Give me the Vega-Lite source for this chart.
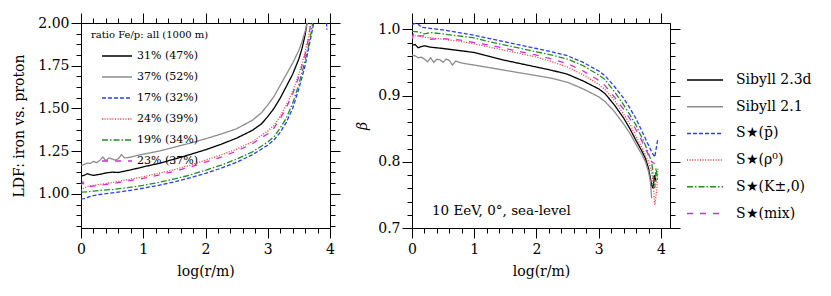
{
"$schema": "https://vega.github.io/schema/vega-lite/v6.json",
"padding": {"left": 12, "top": 12, "right": 0, "bottom": 0},
"config": {
 "font": "DejaVu Serif",
 "view": {"stroke": "black", "strokeWidth": 1},
 "axis": {"grid": false, "domainColor": "black", "tickColor": "black", "labelColor": "black", "titleColor": "black", "labelFontSize": 14, "titleFontSize": 14, "titleFontWeight": "normal", "tickWidth": 1, "domainWidth": 1, "labelOverlap": false, "labelFlush": false, "labelPadding": 2},
 "legend": {"labelColor": "black", "titleColor": "black"}
},
"datasets": {
 "ratios": [
  {"model":"Sibyll 2.3d","ratio":"31% (47%)"},{"model":"Sibyll 2.1","ratio":"37% (52%)"},{"model":"S★(p̄)","ratio":"17% (32%)"},{"model":"S★(ρ⁰)","ratio":"24% (39%)"},{"model":"S★(K±,0)","ratio":"19% (34%)"},{"model":"S★(mix)","ratio":"23% (37%)"}
 ],
 "note": [{"x": 0.32, "y": 0.719, "text": "10 EeV, 0°, sea-level"}],
 "ldf": [
  {"model":"Sibyll 2.3d","x":0,"y":1.104},{"model":"Sibyll 2.3d","x":0.05,"y":1.108},{"model":"Sibyll 2.3d","x":0.1,"y":1.118},{"model":"Sibyll 2.3d","x":0.15,"y":1.112},{"model":"Sibyll 2.3d","x":0.2,"y":1.108},{"model":"Sibyll 2.3d","x":0.3,"y":1.114},{"model":"Sibyll 2.3d","x":0.4,"y":1.122},{"model":"Sibyll 2.3d","x":0.5,"y":1.127},{"model":"Sibyll 2.3d","x":0.6,"y":1.125},{"model":"Sibyll 2.3d","x":0.7,"y":1.133},{"model":"Sibyll 2.3d","x":0.8,"y":1.14},{"model":"Sibyll 2.3d","x":1,"y":1.158},{"model":"Sibyll 2.3d","x":1.25,"y":1.178},{"model":"Sibyll 2.3d","x":1.5,"y":1.203},{"model":"Sibyll 2.3d","x":1.75,"y":1.23},{"model":"Sibyll 2.3d","x":2,"y":1.258},{"model":"Sibyll 2.3d","x":2.25,"y":1.29},{"model":"Sibyll 2.3d","x":2.5,"y":1.326},{"model":"Sibyll 2.3d","x":2.75,"y":1.371},{"model":"Sibyll 2.3d","x":2.9,"y":1.41},{"model":"Sibyll 2.3d","x":3,"y":1.452},{"model":"Sibyll 2.3d","x":3.1,"y":1.5},{"model":"Sibyll 2.3d","x":3.2,"y":1.56},{"model":"Sibyll 2.3d","x":3.3,"y":1.63},{"model":"Sibyll 2.3d","x":3.4,"y":1.7},{"model":"Sibyll 2.3d","x":3.5,"y":1.79},{"model":"Sibyll 2.3d","x":3.55,"y":1.85},{"model":"Sibyll 2.3d","x":3.6,"y":1.93},{"model":"Sibyll 2.3d","x":3.64,"y":2.02},
  {"model":"Sibyll 2.1","x":0,"y":1.166},{"model":"Sibyll 2.1","x":0.05,"y":1.172},{"model":"Sibyll 2.1","x":0.1,"y":1.18},{"model":"Sibyll 2.1","x":0.15,"y":1.178},{"model":"Sibyll 2.1","x":0.2,"y":1.19},{"model":"Sibyll 2.1","x":0.25,"y":1.182},{"model":"Sibyll 2.1","x":0.3,"y":1.195},{"model":"Sibyll 2.1","x":0.35,"y":1.215},{"model":"Sibyll 2.1","x":0.4,"y":1.195},{"model":"Sibyll 2.1","x":0.45,"y":1.21},{"model":"Sibyll 2.1","x":0.5,"y":1.204},{"model":"Sibyll 2.1","x":0.55,"y":1.198},{"model":"Sibyll 2.1","x":0.6,"y":1.205},{"model":"Sibyll 2.1","x":0.65,"y":1.23},{"model":"Sibyll 2.1","x":0.7,"y":1.21},{"model":"Sibyll 2.1","x":0.8,"y":1.215},{"model":"Sibyll 2.1","x":0.9,"y":1.225},{"model":"Sibyll 2.1","x":1,"y":1.232},{"model":"Sibyll 2.1","x":1.25,"y":1.25},{"model":"Sibyll 2.1","x":1.5,"y":1.273},{"model":"Sibyll 2.1","x":1.75,"y":1.296},{"model":"Sibyll 2.1","x":2,"y":1.322},{"model":"Sibyll 2.1","x":2.25,"y":1.35},{"model":"Sibyll 2.1","x":2.5,"y":1.381},{"model":"Sibyll 2.1","x":2.75,"y":1.43},{"model":"Sibyll 2.1","x":2.9,"y":1.475},{"model":"Sibyll 2.1","x":3,"y":1.52},{"model":"Sibyll 2.1","x":3.1,"y":1.57},{"model":"Sibyll 2.1","x":3.2,"y":1.635},{"model":"Sibyll 2.1","x":3.3,"y":1.7},{"model":"Sibyll 2.1","x":3.4,"y":1.765},{"model":"Sibyll 2.1","x":3.5,"y":1.84},{"model":"Sibyll 2.1","x":3.55,"y":1.89},{"model":"Sibyll 2.1","x":3.6,"y":1.95},{"model":"Sibyll 2.1","x":3.65,"y":2.02},
  {"model":"S★(p̄)","x":0,"y":0.97},{"model":"S★(p̄)","x":0.05,"y":0.972},{"model":"S★(p̄)","x":0.1,"y":0.978},{"model":"S★(p̄)","x":0.15,"y":0.985},{"model":"S★(p̄)","x":0.2,"y":0.99},{"model":"S★(p̄)","x":0.3,"y":0.996},{"model":"S★(p̄)","x":0.5,"y":1.005},{"model":"S★(p̄)","x":0.75,"y":1.018},{"model":"S★(p̄)","x":1,"y":1.033},{"model":"S★(p̄)","x":1.25,"y":1.05},{"model":"S★(p̄)","x":1.5,"y":1.07},{"model":"S★(p̄)","x":1.75,"y":1.093},{"model":"S★(p̄)","x":2,"y":1.12},{"model":"S★(p̄)","x":2.25,"y":1.15},{"model":"S★(p̄)","x":2.5,"y":1.185},{"model":"S★(p̄)","x":2.75,"y":1.228},{"model":"S★(p̄)","x":3,"y":1.285},{"model":"S★(p̄)","x":3.1,"y":1.315},{"model":"S★(p̄)","x":3.2,"y":1.36},{"model":"S★(p̄)","x":3.3,"y":1.42},{"model":"S★(p̄)","x":3.4,"y":1.5},{"model":"S★(p̄)","x":3.5,"y":1.615},{"model":"S★(p̄)","x":3.6,"y":1.75},{"model":"S★(p̄)","x":3.65,"y":1.84},{"model":"S★(p̄)","x":3.7,"y":1.93},{"model":"S★(p̄)","x":3.75,"y":2.02},{"model":"S★(p̄)","x":3.85,"y":2.6},{"model":"S★(p̄)","x":3.95,"y":1.96},
  {"model":"S★(ρ⁰)","x":0,"y":1.02},{"model":"S★(ρ⁰)","x":0.05,"y":1.035},{"model":"S★(ρ⁰)","x":0.1,"y":1.043},{"model":"S★(ρ⁰)","x":0.2,"y":1.05},{"model":"S★(ρ⁰)","x":0.3,"y":1.055},{"model":"S★(ρ⁰)","x":0.5,"y":1.066},{"model":"S★(ρ⁰)","x":0.75,"y":1.083},{"model":"S★(ρ⁰)","x":1,"y":1.1},{"model":"S★(ρ⁰)","x":1.25,"y":1.12},{"model":"S★(ρ⁰)","x":1.5,"y":1.142},{"model":"S★(ρ⁰)","x":1.75,"y":1.168},{"model":"S★(ρ⁰)","x":2,"y":1.197},{"model":"S★(ρ⁰)","x":2.25,"y":1.228},{"model":"S★(ρ⁰)","x":2.5,"y":1.262},{"model":"S★(ρ⁰)","x":2.75,"y":1.305},{"model":"S★(ρ⁰)","x":3,"y":1.368},{"model":"S★(ρ⁰)","x":3.1,"y":1.4},{"model":"S★(ρ⁰)","x":3.2,"y":1.455},{"model":"S★(ρ⁰)","x":3.3,"y":1.52},{"model":"S★(ρ⁰)","x":3.4,"y":1.6},{"model":"S★(ρ⁰)","x":3.5,"y":1.7},{"model":"S★(ρ⁰)","x":3.6,"y":1.83},{"model":"S★(ρ⁰)","x":3.65,"y":1.91},{"model":"S★(ρ⁰)","x":3.7,"y":2.02},
  {"model":"S★(K±,0)","x":0,"y":1.01},{"model":"S★(K±,0)","x":0.1,"y":1.012},{"model":"S★(K±,0)","x":0.2,"y":1.016},{"model":"S★(K±,0)","x":0.3,"y":1.02},{"model":"S★(K±,0)","x":0.5,"y":1.025},{"model":"S★(K±,0)","x":0.75,"y":1.036},{"model":"S★(K±,0)","x":1,"y":1.05},{"model":"S★(K±,0)","x":1.25,"y":1.067},{"model":"S★(K±,0)","x":1.5,"y":1.087},{"model":"S★(K±,0)","x":1.75,"y":1.11},{"model":"S★(K±,0)","x":2,"y":1.138},{"model":"S★(K±,0)","x":2.25,"y":1.168},{"model":"S★(K±,0)","x":2.5,"y":1.203},{"model":"S★(K±,0)","x":2.75,"y":1.245},{"model":"S★(K±,0)","x":3,"y":1.303},{"model":"S★(K±,0)","x":3.1,"y":1.335},{"model":"S★(K±,0)","x":3.2,"y":1.385},{"model":"S★(K±,0)","x":3.3,"y":1.445},{"model":"S★(K±,0)","x":3.4,"y":1.53},{"model":"S★(K±,0)","x":3.5,"y":1.64},{"model":"S★(K±,0)","x":3.6,"y":1.78},{"model":"S★(K±,0)","x":3.65,"y":1.86},{"model":"S★(K±,0)","x":3.7,"y":1.95},{"model":"S★(K±,0)","x":3.73,"y":2.02},
  {"model":"S★(mix)","x":0,"y":1.05},{"model":"S★(mix)","x":0.03,"y":1.068},{"model":"S★(mix)","x":0.06,"y":1.045},{"model":"S★(mix)","x":0.1,"y":1.04},{"model":"S★(mix)","x":0.2,"y":1.045},{"model":"S★(mix)","x":0.3,"y":1.05},{"model":"S★(mix)","x":0.5,"y":1.06},{"model":"S★(mix)","x":0.75,"y":1.075},{"model":"S★(mix)","x":1,"y":1.09},{"model":"S★(mix)","x":1.25,"y":1.11},{"model":"S★(mix)","x":1.5,"y":1.132},{"model":"S★(mix)","x":1.75,"y":1.157},{"model":"S★(mix)","x":2,"y":1.185},{"model":"S★(mix)","x":2.25,"y":1.215},{"model":"S★(mix)","x":2.5,"y":1.25},{"model":"S★(mix)","x":2.75,"y":1.293},{"model":"S★(mix)","x":3,"y":1.352},{"model":"S★(mix)","x":3.1,"y":1.385},{"model":"S★(mix)","x":3.2,"y":1.44},{"model":"S★(mix)","x":3.3,"y":1.505},{"model":"S★(mix)","x":3.4,"y":1.585},{"model":"S★(mix)","x":3.5,"y":1.685},{"model":"S★(mix)","x":3.6,"y":1.815},{"model":"S★(mix)","x":3.65,"y":1.9},{"model":"S★(mix)","x":3.7,"y":2.02}
 ],
 "beta": [
  {"model":"Sibyll 2.3d","x":0,"y":0.976},{"model":"Sibyll 2.3d","x":0.05,"y":0.977},{"model":"Sibyll 2.3d","x":0.1,"y":0.972},{"model":"Sibyll 2.3d","x":0.15,"y":0.974},{"model":"Sibyll 2.3d","x":0.2,"y":0.975},{"model":"Sibyll 2.3d","x":0.3,"y":0.973},{"model":"Sibyll 2.3d","x":0.5,"y":0.971},{"model":"Sibyll 2.3d","x":0.75,"y":0.968},{"model":"Sibyll 2.3d","x":1,"y":0.965},{"model":"Sibyll 2.3d","x":1.25,"y":0.959},{"model":"Sibyll 2.3d","x":1.5,"y":0.953},{"model":"Sibyll 2.3d","x":1.75,"y":0.948},{"model":"Sibyll 2.3d","x":2,"y":0.943},{"model":"Sibyll 2.3d","x":2.25,"y":0.938},{"model":"Sibyll 2.3d","x":2.5,"y":0.932},{"model":"Sibyll 2.3d","x":2.75,"y":0.922},{"model":"Sibyll 2.3d","x":3,"y":0.91},{"model":"Sibyll 2.3d","x":3.1,"y":0.903},{"model":"Sibyll 2.3d","x":3.25,"y":0.886},{"model":"Sibyll 2.3d","x":3.4,"y":0.866},{"model":"Sibyll 2.3d","x":3.5,"y":0.85},{"model":"Sibyll 2.3d","x":3.6,"y":0.832},{"model":"Sibyll 2.3d","x":3.7,"y":0.815},{"model":"Sibyll 2.3d","x":3.75,"y":0.805},{"model":"Sibyll 2.3d","x":3.8,"y":0.79},{"model":"Sibyll 2.3d","x":3.85,"y":0.765},{"model":"Sibyll 2.3d","x":3.87,"y":0.76},{"model":"Sibyll 2.3d","x":3.9,"y":0.78},{"model":"Sibyll 2.3d","x":3.92,"y":0.77},
  {"model":"Sibyll 2.1","x":0,"y":0.961},{"model":"Sibyll 2.1","x":0.05,"y":0.96},{"model":"Sibyll 2.1","x":0.1,"y":0.957},{"model":"Sibyll 2.1","x":0.15,"y":0.958},{"model":"Sibyll 2.1","x":0.2,"y":0.955},{"model":"Sibyll 2.1","x":0.25,"y":0.951},{"model":"Sibyll 2.1","x":0.3,"y":0.957},{"model":"Sibyll 2.1","x":0.35,"y":0.95},{"model":"Sibyll 2.1","x":0.4,"y":0.955},{"model":"Sibyll 2.1","x":0.45,"y":0.954},{"model":"Sibyll 2.1","x":0.5,"y":0.95},{"model":"Sibyll 2.1","x":0.55,"y":0.955},{"model":"Sibyll 2.1","x":0.6,"y":0.953},{"model":"Sibyll 2.1","x":0.65,"y":0.946},{"model":"Sibyll 2.1","x":0.7,"y":0.952},{"model":"Sibyll 2.1","x":0.8,"y":0.949},{"model":"Sibyll 2.1","x":1,"y":0.946},{"model":"Sibyll 2.1","x":1.25,"y":0.942},{"model":"Sibyll 2.1","x":1.5,"y":0.938},{"model":"Sibyll 2.1","x":1.75,"y":0.934},{"model":"Sibyll 2.1","x":2,"y":0.93},{"model":"Sibyll 2.1","x":2.25,"y":0.926},{"model":"Sibyll 2.1","x":2.5,"y":0.92},{"model":"Sibyll 2.1","x":2.75,"y":0.91},{"model":"Sibyll 2.1","x":3,"y":0.898},{"model":"Sibyll 2.1","x":3.1,"y":0.891},{"model":"Sibyll 2.1","x":3.25,"y":0.876},{"model":"Sibyll 2.1","x":3.4,"y":0.857},{"model":"Sibyll 2.1","x":3.5,"y":0.843},{"model":"Sibyll 2.1","x":3.6,"y":0.826},{"model":"Sibyll 2.1","x":3.7,"y":0.81},{"model":"Sibyll 2.1","x":3.75,"y":0.8},{"model":"Sibyll 2.1","x":3.8,"y":0.785},{"model":"Sibyll 2.1","x":3.83,"y":0.77},{"model":"Sibyll 2.1","x":3.85,"y":0.745},
  {"model":"S★(p̄)","x":0,"y":1.007},{"model":"S★(p̄)","x":0.05,"y":1.009},{"model":"S★(p̄)","x":0.1,"y":1.008},{"model":"S★(p̄)","x":0.15,"y":1.003},{"model":"S★(p̄)","x":0.25,"y":1.002},{"model":"S★(p̄)","x":0.5,"y":0.999},{"model":"S★(p̄)","x":0.75,"y":0.995},{"model":"S★(p̄)","x":1,"y":0.991},{"model":"S★(p̄)","x":1.25,"y":0.986},{"model":"S★(p̄)","x":1.5,"y":0.981},{"model":"S★(p̄)","x":1.75,"y":0.976},{"model":"S★(p̄)","x":2,"y":0.971},{"model":"S★(p̄)","x":2.25,"y":0.966},{"model":"S★(p̄)","x":2.5,"y":0.96},{"model":"S★(p̄)","x":2.75,"y":0.95},{"model":"S★(p̄)","x":3,"y":0.937},{"model":"S★(p̄)","x":3.1,"y":0.93},{"model":"S★(p̄)","x":3.25,"y":0.914},{"model":"S★(p̄)","x":3.4,"y":0.896},{"model":"S★(p̄)","x":3.5,"y":0.881},{"model":"S★(p̄)","x":3.6,"y":0.865},{"model":"S★(p̄)","x":3.7,"y":0.845},{"model":"S★(p̄)","x":3.75,"y":0.835},{"model":"S★(p̄)","x":3.8,"y":0.825},{"model":"S★(p̄)","x":3.85,"y":0.815},{"model":"S★(p̄)","x":3.9,"y":0.807},{"model":"S★(p̄)","x":3.95,"y":0.835},
  {"model":"S★(ρ⁰)","x":0,"y":0.99},{"model":"S★(ρ⁰)","x":0.1,"y":0.99},{"model":"S★(ρ⁰)","x":0.2,"y":0.988},{"model":"S★(ρ⁰)","x":0.3,"y":0.987},{"model":"S★(ρ⁰)","x":0.5,"y":0.985},{"model":"S★(ρ⁰)","x":0.75,"y":0.982},{"model":"S★(ρ⁰)","x":1,"y":0.978},{"model":"S★(ρ⁰)","x":1.25,"y":0.973},{"model":"S★(ρ⁰)","x":1.5,"y":0.968},{"model":"S★(ρ⁰)","x":1.75,"y":0.963},{"model":"S★(ρ⁰)","x":2,"y":0.958},{"model":"S★(ρ⁰)","x":2.25,"y":0.951},{"model":"S★(ρ⁰)","x":2.5,"y":0.943},{"model":"S★(ρ⁰)","x":2.75,"y":0.931},{"model":"S★(ρ⁰)","x":3,"y":0.917},{"model":"S★(ρ⁰)","x":3.1,"y":0.909},{"model":"S★(ρ⁰)","x":3.25,"y":0.893},{"model":"S★(ρ⁰)","x":3.4,"y":0.872},{"model":"S★(ρ⁰)","x":3.5,"y":0.857},{"model":"S★(ρ⁰)","x":3.6,"y":0.838},{"model":"S★(ρ⁰)","x":3.7,"y":0.82},{"model":"S★(ρ⁰)","x":3.75,"y":0.81},{"model":"S★(ρ⁰)","x":3.8,"y":0.8},{"model":"S★(ρ⁰)","x":3.85,"y":0.785},{"model":"S★(ρ⁰)","x":3.88,"y":0.76},{"model":"S★(ρ⁰)","x":3.9,"y":0.735},{"model":"S★(ρ⁰)","x":3.93,"y":0.755},{"model":"S★(ρ⁰)","x":3.95,"y":0.79},
  {"model":"S★(K±,0)","x":0,"y":0.997},{"model":"S★(K±,0)","x":0.1,"y":0.996},{"model":"S★(K±,0)","x":0.2,"y":0.993},{"model":"S★(K±,0)","x":0.3,"y":0.995},{"model":"S★(K±,0)","x":0.5,"y":0.993},{"model":"S★(K±,0)","x":0.75,"y":0.99},{"model":"S★(K±,0)","x":1,"y":0.987},{"model":"S★(K±,0)","x":1.25,"y":0.981},{"model":"S★(K±,0)","x":1.5,"y":0.976},{"model":"S★(K±,0)","x":1.75,"y":0.971},{"model":"S★(K±,0)","x":2,"y":0.966},{"model":"S★(K±,0)","x":2.25,"y":0.961},{"model":"S★(K±,0)","x":2.5,"y":0.955},{"model":"S★(K±,0)","x":2.75,"y":0.945},{"model":"S★(K±,0)","x":3,"y":0.931},{"model":"S★(K±,0)","x":3.1,"y":0.924},{"model":"S★(K±,0)","x":3.25,"y":0.906},{"model":"S★(K±,0)","x":3.4,"y":0.886},{"model":"S★(K±,0)","x":3.5,"y":0.871},{"model":"S★(K±,0)","x":3.6,"y":0.855},{"model":"S★(K±,0)","x":3.7,"y":0.835},{"model":"S★(K±,0)","x":3.75,"y":0.825},{"model":"S★(K±,0)","x":3.8,"y":0.812},{"model":"S★(K±,0)","x":3.85,"y":0.8},{"model":"S★(K±,0)","x":3.88,"y":0.775},{"model":"S★(K±,0)","x":3.9,"y":0.76},{"model":"S★(K±,0)","x":3.92,"y":0.79},{"model":"S★(K±,0)","x":3.95,"y":0.77},
  {"model":"S★(mix)","x":0,"y":0.985},{"model":"S★(mix)","x":0.03,"y":0.995},{"model":"S★(mix)","x":0.06,"y":0.99},{"model":"S★(mix)","x":0.1,"y":0.99},{"model":"S★(mix)","x":0.2,"y":0.99},{"model":"S★(mix)","x":0.3,"y":0.985},{"model":"S★(mix)","x":0.5,"y":0.986},{"model":"S★(mix)","x":0.75,"y":0.984},{"model":"S★(mix)","x":1,"y":0.98},{"model":"S★(mix)","x":1.25,"y":0.976},{"model":"S★(mix)","x":1.5,"y":0.971},{"model":"S★(mix)","x":1.75,"y":0.966},{"model":"S★(mix)","x":2,"y":0.961},{"model":"S★(mix)","x":2.25,"y":0.955},{"model":"S★(mix)","x":2.5,"y":0.948},{"model":"S★(mix)","x":2.75,"y":0.937},{"model":"S★(mix)","x":3,"y":0.923},{"model":"S★(mix)","x":3.1,"y":0.915},{"model":"S★(mix)","x":3.25,"y":0.898},{"model":"S★(mix)","x":3.4,"y":0.879},{"model":"S★(mix)","x":3.5,"y":0.865},{"model":"S★(mix)","x":3.6,"y":0.848},{"model":"S★(mix)","x":3.7,"y":0.83},{"model":"S★(mix)","x":3.75,"y":0.82},{"model":"S★(mix)","x":3.8,"y":0.81},{"model":"S★(mix)","x":3.85,"y":0.8},{"model":"S★(mix)","x":3.9,"y":0.797}
 ]
},
"spacing": 14,
"hconcat": [
 {
  "width": 249, "height": 205,
  "layer": [
   {
    "data": {"name": "ldf"},
    "transform": [{"lookup": "model", "from": {"data": {"name": "ratios"}, "key": "model", "fields": ["ratio"]}}],
    "mark": {"type": "line", "strokeWidth": 1.3, "clip": true},
    "encoding": {
     "x": {"field": "x", "type": "quantitative", "scale": {"domain": [0, 4], "nice": false, "zero": false},
      "axis": {"orient": "bottom", "title": "log(r/m)", "titlePadding": 8, "format": ".0f", "labelPadding": 4,
       "values": [0,0.2,0.4,0.6,0.8,1,1.2,1.4,1.6,1.8,2,2.2,2.4,2.6,2.8,3,3.2,3.4,3.6,3.8,4],
       "labelExpr": "abs(datum.value - round(datum.value)) < 1e-6 ? datum.label : ''",
       "tickSize": {"condition": {"test": "abs(datum.value - round(datum.value)) < 1e-6", "value": 10}, "value": 5}}},
     "y": {"field": "y", "type": "quantitative", "scale": {"domain": [0.8, 2.0], "nice": false, "zero": false},
      "axis": {"orient": "left", "title": "LDF: iron vs. proton", "titlePadding": 11, "format": ".2f",
       "values": [0.8125,0.875,0.9375,1,1.0625,1.125,1.1875,1.25,1.3125,1.375,1.4375,1.5,1.5625,1.625,1.6875,1.75,1.8125,1.875,1.9375,2],
       "labelExpr": "abs(datum.value*4 - round(datum.value*4)) < 1e-6 ? datum.label : ''",
       "tickSize": {"condition": {"test": "abs(datum.value*4 - round(datum.value*4)) < 1e-6", "value": 10}, "value": 5}}},
     "color": {"field": "ratio", "type": "nominal",
      "scale": {"domain": ["31% (47%)","37% (52%)","17% (32%)","24% (39%)","19% (34%)","23% (37%)"], "range": ["#000000","#8c8c8c","#2a3cff","#ff3030","#1f8f1f","#d22fd2"]},
      "legend": {"title": "ratio Fe/p: all (1000 m)", "orient": "none", "legendX": 10, "legendY": 7, "padding": 0, "titleFontSize": 10, "titleFontWeight": "normal", "titlePadding": 0, "labelFontSize": 11, "symbolType": "stroke", "symbolSize": 900, "symbolStrokeWidth": 1.3, "symbolOffset": 10, "rowPadding": -5.7, "labelOffset": 4}},
     "strokeDash": {"field": "ratio", "type": "nominal",
      "scale": {"domain": ["31% (47%)","37% (52%)","17% (32%)","24% (39%)","19% (34%)","23% (37%)"], "range": [[1,0],[1,0],[4,2],[1,1.6],[6,2,1.5,2],[6,7]]},
      "legend": {"title": "ratio Fe/p: all (1000 m)", "orient": "none", "legendX": 10, "legendY": 7, "padding": 0, "titleFontSize": 10, "titleFontWeight": "normal", "titlePadding": 0, "labelFontSize": 11, "symbolType": "stroke", "symbolSize": 900, "symbolStrokeWidth": 1.3, "symbolOffset": 10, "rowPadding": -5.7, "labelOffset": 4}}
    }
   },
   {
    "data": {"name": "ldf"},
    "mark": {"type": "line", "strokeOpacity": 0, "clip": true},
    "encoding": {
     "detail": {"field": "model", "type": "nominal"},
     "x": {"field": "x", "type": "quantitative", "scale": {"domain": [0, 4], "nice": false, "zero": false},
      "axis": {"orient": "top", "title": null, "labels": false, "tickSize": 10,
       "values": [0,0.2,0.4,0.6,0.8,1,1.2,1.4,1.6,1.8,2,2.2,2.4,2.6,2.8,3,3.2,3.4,3.6,3.8,4],
       "tickDash": {"condition": {"test": "abs(datum.value - round(datum.value)) < 1e-6", "value": [10, 0]}, "value": [5, 20]}}},
     "y": {"field": "y", "type": "quantitative", "scale": {"domain": [0.8, 2.0], "nice": false, "zero": false},
      "axis": {"orient": "right", "title": null, "labels": false, "tickSize": 10,
       "values": [0.8125,0.875,0.9375,1,1.0625,1.125,1.1875,1.25,1.3125,1.375,1.4375,1.5,1.5625,1.625,1.6875,1.75,1.8125,1.875,1.9375,2],
       "tickDash": {"condition": {"test": "abs(datum.value*4 - round(datum.value*4)) < 1e-6", "value": [10, 0]}, "value": [5, 20]}}}
    }
   }
  ],
  "resolve": {"axis": {"x": "independent", "y": "independent"}}
 },
 {
  "width": 258, "height": 205,
  "layer": [
   {
    "data": {"name": "beta"},
    "mark": {"type": "line", "strokeWidth": 1.3, "clip": true},
    "encoding": {
     "x": {"field": "x", "type": "quantitative", "scale": {"domain": [0, 4.145], "nice": false, "zero": false},
      "axis": {"orient": "bottom", "title": "log(r/m)", "titlePadding": 8, "format": ".0f", "labelPadding": 4,
       "values": [0,0.2,0.4,0.6,0.8,1,1.2,1.4,1.6,1.8,2,2.2,2.4,2.6,2.8,3,3.2,3.4,3.6,3.8,4],
       "labelExpr": "abs(datum.value - round(datum.value)) < 1e-6 ? datum.label : ''",
       "tickSize": {"condition": {"test": "abs(datum.value - round(datum.value)) < 1e-6", "value": 10}, "value": 5}}},
     "y": {"field": "y", "type": "quantitative", "scale": {"domain": [0.7, 1.0095], "nice": false, "zero": false},
      "axis": {"orient": "left", "title": "β", "titleFontStyle": "italic", "titlePadding": 8, "format": ".1f",
       "values": [0.7,0.72,0.74,0.76,0.78,0.8,0.82,0.84,0.86,0.88,0.9,0.92,0.94,0.96,0.98,1.0],
       "labelExpr": "abs(datum.value*10 - round(datum.value*10)) < 1e-6 ? datum.label : ''",
       "tickSize": {"condition": {"test": "abs(datum.value*10 - round(datum.value*10)) < 1e-6", "value": 10}, "value": 5}}},
     "color": {"field": "model", "type": "nominal",
      "scale": {"domain": ["Sibyll 2.3d","Sibyll 2.1","S★(p̄)","S★(ρ⁰)","S★(K±,0)","S★(mix)"], "range": ["#000000","#8c8c8c","#2a3cff","#ff3030","#1f8f1f","#d22fd2"]},
      "legend": {"title": null, "orient": "none", "legendX": 274, "legendY": 38, "padding": 0, "labelFontSize": 14, "symbolType": "stroke", "symbolSize": 1296, "symbolStrokeWidth": 1.5, "rowPadding": 0.7, "labelOffset": 12}},
     "strokeDash": {"field": "model", "type": "nominal",
      "scale": {"domain": ["Sibyll 2.3d","Sibyll 2.1","S★(p̄)","S★(ρ⁰)","S★(K±,0)","S★(mix)"], "range": [[1,0],[1,0],[4,2],[1,1.6],[6,2,1.5,2],[6,7]]},
      "legend": {"title": null, "orient": "none", "legendX": 274, "legendY": 38, "padding": 0, "labelFontSize": 14, "symbolType": "stroke", "symbolSize": 1296, "symbolStrokeWidth": 1.5, "rowPadding": 0.7, "labelOffset": 12}}
    }
   },
   {
    "data": {"name": "note"},
    "mark": {"type": "text", "align": "left", "baseline": "alphabetic", "fontSize": 13.5, "font": "DejaVu Serif", "color": "black"},
    "encoding": {
     "x": {"field": "x", "type": "quantitative", "axis": null},
     "y": {"field": "y", "type": "quantitative", "axis": null},
     "text": {"field": "text"}
    }
   },
   {
    "data": {"name": "beta"},
    "mark": {"type": "line", "strokeOpacity": 0, "clip": true},
    "encoding": {
     "detail": {"field": "model", "type": "nominal"},
     "x": {"field": "x", "type": "quantitative", "scale": {"domain": [0, 4.145], "nice": false, "zero": false},
      "axis": {"orient": "top", "title": null, "labels": false, "tickSize": 10,
       "values": [0,0.2,0.4,0.6,0.8,1,1.2,1.4,1.6,1.8,2,2.2,2.4,2.6,2.8,3,3.2,3.4,3.6,3.8,4],
       "tickDash": {"condition": {"test": "abs(datum.value - round(datum.value)) < 1e-6", "value": [10, 0]}, "value": [5, 20]}}},
     "y": {"field": "y", "type": "quantitative", "scale": {"domain": [0.7, 1.0095], "nice": false, "zero": false},
      "axis": {"orient": "right", "title": null, "labels": false, "tickSize": 10,
       "values": [0.7,0.72,0.74,0.76,0.78,0.8,0.82,0.84,0.86,0.88,0.9,0.92,0.94,0.96,0.98,1.0],
       "tickDash": {"condition": {"test": "abs(datum.value*10 - round(datum.value*10)) < 1e-6", "value": [10, 0]}, "value": [5, 20]}}}
    }
   }
  ],
  "resolve": {"axis": {"x": "independent", "y": "independent"}}
 }
],
"resolve": {"scale": {"color": "independent", "strokeDash": "independent"}, "legend": {"color": "independent", "strokeDash": "independent"}}
}
